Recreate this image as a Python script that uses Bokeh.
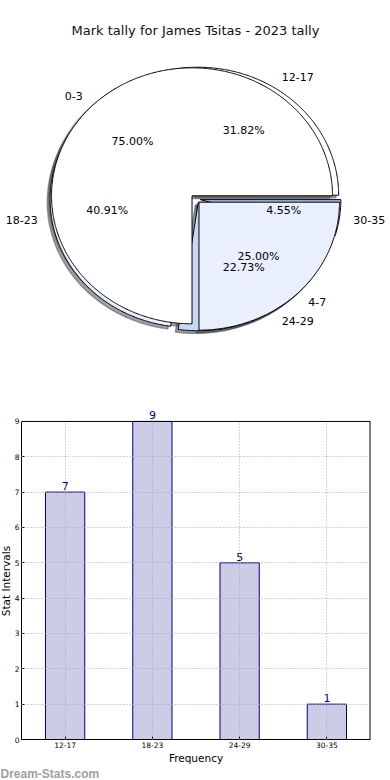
import numpy as np
from bokeh.plotting import figure
from bokeh.models import (ColumnDataSource, Label, Range1d, FactorRange, FixedTicker,
                          Span, Grid)
from bokeh.transform import dodge
from bokeh.layouts import column, row
from bokeh.embed import file_html
from bokeh.resources import INLINE
from bokeh.core.properties import value

# ---------------- data ----------------
title_text = "Mark tally for James Tsitas - 2023 tally"

pie1_labels = ["0-3", "4-7"]
pie1_counts = [3, 1]
pie1_colors = ["#ffffff", "#e9effc"]

pie2_labels = ["12-17", "18-23", "24-29", "30-35"]
pie2_counts = [7, 9, 5, 1]
pie2_colors = ["#ffffff", "#e9effc", "#c6d8f6", "#a5c0ee"]

bar_categories = ["12-17", "18-23", "24-29", "30-35"]
bar_values = [7, 9, 5, 1]
y_ticks = [0, 1, 2, 3, 4, 5, 6, 7, 8, 9]
y_max = 9
x_axis_label = "Frequency"
y_axis_label = "Stat Intervals"
watermark = "Dream-Stats.com"

FONT = value("DejaVu Sans")

# ---------------- pie figure ----------------
W1, H1 = 390, 400
CX, CY = 195.0, 198.5       # pie centre in canvas pixels (from top-left)
RX, RY = 140.5, 128.0       # pixels per unit radius
EXPLODE = 0.035

p1 = figure(width=W1, height=H1, output_backend="svg", toolbar_location=None,
            x_range=Range1d(-CX / RX, (W1 - CX) / RX),
            y_range=Range1d(-(H1 - CY) / RY, CY / RY),
            x_axis_location=None, y_axis_location=None, min_border=0)
p1.frame_align = False
p1.outline_line_color = None
p1.xgrid.visible = False
p1.ygrid.visible = False


def shade(hexcol):
    h = hexcol.lstrip("#")
    r, g, b = (int(h[i:i + 2], 16) for i in (0, 2, 4))
    return "#%02x%02x%02x" % (int(r * 0.3), int(g * 0.3), int(b * 0.3))


def pie_geometry(labels, counts, colors):
    c = np.array(counts, dtype=float)
    fr = c / c.sum()
    t = 0.0
    xs, ys, lx, ly, la, px, py, pt = [], [], [], [], [], [], [], []
    for f in fr:
        t1, t2 = t, t + 360.0 * f
        t = t2
        mid = np.radians((t1 + t2) / 2)
        ox, oy = EXPLODE * np.cos(mid), EXPLODE * np.sin(mid)
        arc = np.radians(np.linspace(t1, t2, max(3, int(t2 - t1) * 2)))
        xs.append(np.concatenate([[ox], ox + np.cos(arc), [ox]]))
        ys.append(np.concatenate([[oy], oy + np.sin(arc), [oy]]))
        x_l = ox + 1.1 * np.cos(mid)
        lx.append(x_l)
        ly.append(oy + 1.1 * np.sin(mid))
        la.append("left" if x_l > 0 else "right")
        px.append(ox + 0.6 * np.cos(mid))
        py.append(oy + 0.6 * np.sin(mid))
        pt.append("%.2f%%" % (f * 100))
    wedges = ColumnDataSource(dict(xs=xs, ys=ys, fill=list(colors)))
    shadows = ColumnDataSource(dict(xs=[x - 0.02 for x in xs], ys=[y - 0.02 for y in ys],
                                    shadow=[shade(col) for col in colors]))
    lbl = ColumnDataSource(dict(x=lx, y=ly, text=list(labels), align=la))
    pct = ColumnDataSource(dict(x=px, y=py, text=pt))
    return wedges, shadows, lbl, pct


w1, s1, l1, c1 = pie_geometry(pie1_labels, pie1_counts, pie1_colors)
w2, s2, l2, c2 = pie_geometry(pie2_labels, pie2_counts, pie2_colors)

for s in (s2, s1):
    p1.patches("xs", "ys", source=s, fill_color="shadow", fill_alpha=0.5,
               line_color="shadow", line_alpha=0.5, line_width=1.5)
for w in (w2, w1):
    p1.patches("xs", "ys", source=w, fill_color="fill", line_color="black", line_width=1)

for l in (l1, l2):
    p1.text("x", "y", text="text", source=l, text_align="align", text_baseline="middle",
            text_font=FONT, text_font_size="11px", text_color="black")
for c in (c1, c2):
    p1.text("x", "y", text="text", source=c, text_align="center", text_baseline="middle",
            text_font=FONT, text_font_size="11px", text_color="black")

p1.add_layout(Label(x=195, y=H1 - 30, x_units="screen", y_units="screen", text=title_text,
                    text_align="center", text_baseline="middle", text_font="DejaVu Sans",
                    text_font_size="13px", text_color="#111111"))

# ---------------- bar figure ----------------
STRIP_W = 11
W2, H2 = 390 - STRIP_W, 366
BL, BR, BT, BB = 8, 20, 0, 26
PX_PER_UNIT = 35.44
top_pad = 21 / PX_PER_UNIT     # room above the frame for the top value label

p2 = figure(width=W2, height=H2, output_backend="svg", toolbar_location=None,
            x_range=FactorRange(*bar_categories, range_padding=0),
            y_range=Range1d(0, y_max + top_pad),
            min_border_left=BL, min_border_right=BR, min_border_top=BT, min_border_bottom=BB)
p2.frame_align = False
p2.outline_line_color = None

src = ColumnDataSource(dict(cat=bar_categories, val=bar_values,
                            lbl=[str(v) for v in bar_values]))
p2.vbar(x="cat", top="val", width=0.45, source=src, fill_color="#ccccE6",
        line_color="#000080", line_width=1)

GRID_COLOR, GRID_DASH = "#a8a8a8", "1 2"
if "cross_bounds" in Grid.properties():
    p2.xgrid.cross_bounds = (0, y_max)
    p2.xgrid.grid_line_color = GRID_COLOR
    p2.xgrid.grid_line_dash = GRID_DASH
    p2.xgrid.level = "annotation"
else:
    p2.xgrid.visible = False
    p2.segment(x0="cat", y0=0, x1="cat", y1=y_max, source=src, line_color=GRID_COLOR,
               line_dash=GRID_DASH, line_width=1, level="annotation")
p2.ygrid.grid_line_color = GRID_COLOR
p2.ygrid.grid_line_dash = GRID_DASH
p2.ygrid.level = "annotation"

p2.text(x="cat", y="val", text="lbl", source=src, text_align="center",
        text_baseline="bottom", y_offset=-2, text_color="#000080",
        text_font=FONT, text_font_size="11px")

p2.yaxis.ticker = FixedTicker(ticks=y_ticks)
p2.yaxis.bounds = (0, y_max)
p2.yaxis.minor_tick_line_color = None
for ax in (p2.xaxis, p2.yaxis):
    ax.axis_line_color = "black"
    ax.major_tick_in = 3
    ax.major_tick_out = 0
    ax.major_tick_line_color = "black"
    ax.major_label_text_font = "DejaVu Sans"
    ax.major_label_text_font_size = "7.5px"
    ax.major_label_text_color = "black"
    ax.major_label_standoff = 2
p2.xaxis.axis_label = x_axis_label
p2.xaxis.axis_label_text_font = "DejaVu Sans"
p2.xaxis.axis_label_text_font_size = "10.5px"
p2.xaxis.axis_label_text_font_style = "normal"
p2.xaxis.axis_label_text_color = "black"
p2.xaxis.axis_label_standoff = 1

# right and top edges of the plotting box (bounded at the axis maximum)
edge_src = ColumnDataSource(dict(cat=bar_categories[-1:]))
p2.segment(x0=dodge("cat", 0.5, range=p2.x_range), y0=0,
           x1=dodge("cat", 0.5, range=p2.x_range), y1=y_max,
           source=edge_src, line_color="black", line_width=2)
p2.add_layout(Span(location=y_max, dimension="width", line_color="black", line_width=1))

# y-axis title strip
pS = figure(width=STRIP_W, height=H2, output_backend="svg", toolbar_location=None,
            x_range=Range1d(0, STRIP_W), y_range=Range1d(0, H2),
            x_axis_location=None, y_axis_location=None, min_border=0)
pS.frame_align = False
pS.outline_line_color = None
pS.xgrid.visible = False
pS.ygrid.visible = False
frame_mid = BB + y_max * PX_PER_UNIT / 2
pS.text(x=[STRIP_W / 2], y=[frame_mid], text=[y_axis_label], angle=np.pi / 2,
        text_align="center", text_baseline="middle", text_font=FONT,
        text_font_size="10.5px", text_color="black")

# ---------------- watermark strip ----------------
W3, H3 = 390, 14
p3 = figure(width=W3, height=H3, output_backend="svg", toolbar_location=None,
            x_range=Range1d(0, W3), y_range=Range1d(0, H3),
            x_axis_location=None, y_axis_location=None, min_border=0)
p3.frame_align = False
p3.outline_line_color = None
p3.xgrid.visible = False
p3.ygrid.visible = False
p3.text(x=[0], y=[H3 / 2], text=[watermark], text_align="left", text_baseline="middle",
        text_font=value("Liberation Sans"), text_font_style="bold",
        text_font_size="12px", text_color="#a0a0a0")

layout = column(p1, row(pS, p2, spacing=0), p3, spacing=0)
open("out.html", "w").write(file_html(layout, INLINE))
